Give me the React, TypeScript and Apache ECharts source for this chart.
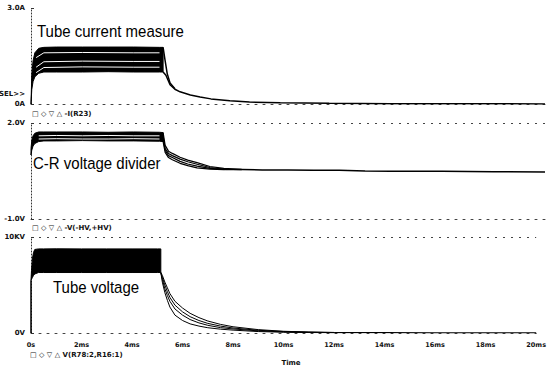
import React, { useEffect, useRef } from "react";
import * as echarts from "echarts";

// ---- x ticks (ms) ----
const xTicks = [0, 2, 4, 6, 8, 10, 12, 14, 16, 18, 20];

// ---- Top panel: tube current (A) ----
const curBandT = [0, 0.03, 0.08, 0.15, 0.3, 0.5, 1, 2, 3, 4, 5, 5.14];
const curUpper = [0, 0.9, 1.35, 1.6, 1.74, 1.77, 1.78, 1.78, 1.78, 1.78, 1.77, 1.77];
const curLower = [0, 0.45, 0.7, 0.85, 0.96, 1.0, 1.0, 1.0, 1.01, 1.0, 1.0, 1.0];
const curWhiteT = [0.2, 0.5, 2, 4, 5.0];
const curWhite1 = [1.45, 1.6, 1.61, 1.6, 1.6];
const curWhite2 = [1.15, 1.32, 1.34, 1.33, 1.33];
const curWhite3 = [0.98, 1.14, 1.16, 1.15, 1.15];
const curDropT = [5.14, 5.22, 5.3, 5.41, 5.6];
const curDrop = [1.77, 1.35, 0.95, 0.66, 0.48];
const curDecayT = [5.14, 5.25, 5.41, 5.6, 5.8, 6.2, 6.58, 7.0, 7.74, 8.5, 9.7, 11.6, 14, 17, 20];
const curDecay = [1.0, 0.9, 0.6, 0.46, 0.38, 0.28, 0.22, 0.16, 0.1, 0.06, 0.04, 0.02, 0.01, 0.01, 0.0];

// ---- Middle panel: C-R voltage divider (V) ----
const divBandT = [0, 0.03, 0.08, 0.15, 0.3, 0.5, 1, 2, 3, 4, 5, 5.14];
const divUpper = [1.2, 1.45, 1.6, 1.68, 1.72, 1.72, 1.72, 1.72, 1.71, 1.72, 1.71, 1.7];
const divLower = [1.0, 1.15, 1.28, 1.36, 1.42, 1.44, 1.44, 1.45, 1.44, 1.44, 1.43, 1.42];
const divWhiteT = [0.3, 1, 2, 3, 4, 5.0];
const divWhite1 = [1.6, 1.61, 1.6, 1.61, 1.6, 1.6];
const divWhite2 = [1.5, 1.51, 1.5, 1.5, 1.51, 1.5];
const divDecayT = [5.14, 5.22, 5.35, 5.5, 5.8, 6.1, 6.46, 6.96, 7.5, 8.2];
const divDecay1 = [1.7, 1.3, 1.12, 1.05, 0.93, 0.84, 0.76, 0.64, 0.58, 0.55];
const divDecay2 = [1.6, 1.2, 1.05, 0.98, 0.87, 0.79, 0.71, 0.61, 0.56, 0.54];
const divDecay3 = [1.5, 1.15, 0.98, 0.92, 0.8, 0.72, 0.65, 0.58, 0.55, 0.54];
const divDecay4 = [1.42, 1.08, 0.92, 0.85, 0.74, 0.67, 0.6, 0.56, 0.54, 0.55];
const divTailT = [8.2, 9, 10, 11, 12, 13, 14, 16, 18, 20];
const divTail = [0.55, 0.53, 0.53, 0.52, 0.52, 0.5, 0.49, 0.49, 0.48, 0.47];

// ---- Bottom panel: tube voltage (kV) ----
const kvRiseT = [0, 0];
const kvRise = [0, 5.5];
const kvBandT = [0, 0.02, 0.06, 0.1, 0.15, 0.3, 0.5, 1, 2, 3, 4, 5, 5.14];
const kvUpper = [5.5, 6.5, 7.8, 8.4, 8.7, 8.76, 8.76, 8.77, 8.76, 8.76, 8.76, 8.76, 8.76];
const kvLower = [5.5, 5.6, 5.8, 6.0, 6.15, 6.3, 6.3, 6.3, 6.3, 6.3, 6.3, 6.3, 6.3];
const kvDecayT = [5.14, 5.2, 5.3, 5.4, 5.5, 5.7, 6.0, 6.3, 6.65, 7.0, 7.5, 8.0, 9.0, 10.0, 11, 12];
const kvDecay1 = [6.3, 5.3, 4.2, 3.4, 2.7, 1.86, 1.3, 0.95, 0.72, 0.55, 0.4, 0.3, 0.15, 0.08, 0.05, 0.03];
const kvDecay2 = [6.3, 5.6, 4.6, 3.9, 3.3, 2.5, 1.86, 1.4, 1.05, 0.8, 0.56, 0.42, 0.22, 0.12, 0.07, 0.04];
const kvDecay3 = [6.3, 5.8, 5.0, 4.3, 3.7, 2.9, 2.2, 1.7, 1.3, 1.0, 0.72, 0.52, 0.28, 0.15, 0.08, 0.05];
const kvDecay4 = [6.3, 6.0, 5.3, 4.7, 4.1, 3.3, 2.6, 2.05, 1.6, 1.25, 0.9, 0.65, 0.35, 0.18, 0.1, 0.06];
const kvTailT = [12, 14, 16, 18, 20];
const kvTail = [0.04, 0.03, 0.02, 0.02, 0.02];

// ---- texts ----
const titles = ["Tube current measure", "C-R voltage divider", "Tube voltage"];
const legends = ["□ ◇ ▽ △ -I(R23)", "□ ◇ ▽ △ -V(-HV,+HV)", "□ ◇ ▽ △ V(R78:2,R16:1)"];

const pts = (t: number[], v: number[]) => t.map((x, i) => [x, v[i]]);

function line(idx: number, data: number[][], extra: any = {}) {
  return {
    type: "line",
    xAxisIndex: idx,
    yAxisIndex: idx,
    data,
    showSymbol: false,
    symbol: "none",
    silent: true,
    lineStyle: { color: "#000", width: 1.2 },
    z: 2,
    ...extra,
  };
}

function white(idx: number, data: number[][]) {
  return line(idx, data, { lineStyle: { color: "#fff", width: 1 }, z: 4 });
}

// filled band between an upper and a lower trace, positioned by the axes
function band(idx: number, t: number[], upper: number[], lower: number[]) {
  const poly = [...pts(t, upper), ...pts(t, lower).reverse()];
  return {
    type: "custom",
    xAxisIndex: idx,
    yAxisIndex: idx,
    silent: true,
    z: 2,
    data: [[t[0], lower[0]]],
    renderItem: (_p: any, api: any) => ({
      type: "polygon",
      shape: { points: poly.map((p) => api.coord(p)) },
      style: { fill: "#000", stroke: "#000", lineWidth: 1 },
    }),
  };
}

const labelFont = { fontSize: 7, fontWeight: "bold", color: "#111", fontFamily: "DejaVu Sans" };
const dash = { color: "#444", type: [2, 6], width: 1 };

export default function App() {
  const ref = useRef<HTMLDivElement>(null);
  useEffect(() => {
    if (!ref.current) return;
    const chart = echarts.init(ref.current, undefined, { renderer: "svg" });
    const grids = [
      { left: 31, right: 4, top: 8, height: 96 },
      { left: 31, right: 4, top: 123, height: 96 },
      { left: 31, right: 4, top: 237, height: 96 },
    ];
    const yCfg = [
      { min: 0, max: 3, interval: 3, fmt: (v: number) => (v === 0 ? "0A" : "3.0A"), split: false },
      { min: -1, max: 2, interval: 3, fmt: (v: number) => (v === -1 ? "-1.0V" : "2.0V"), split: true },
      { min: 0, max: 10, interval: 10, fmt: (v: number) => (v === 0 ? "0V" : "10KV"), split: true },
    ];
    const option: any = {
      animation: false,
      backgroundColor: "#fff",
      grid: grids,
      xAxis: [0, 1, 2].map((i) => ({
        type: "value",
        gridIndex: i,
        min: 0,
        max: 20,
        interval: 2,
        axisLine: { show: true, onZero: false, lineStyle: dash },
        axisTick: { show: false },
        splitLine: { show: false },
        axisLabel: {
          show: i === 2,
          ...labelFont,
          fontSize: 6.5,
          margin: 8,
          formatter: (v: number) => (xTicks.includes(v) ? (v === 0 ? "0s" : v + "ms") : ""),
        },
      })),
      yAxis: yCfg.map((c, i) => ({
        type: "value",
        gridIndex: i,
        min: c.min,
        max: c.max,
        interval: c.interval,
        axisLine: { show: true, onZero: false, lineStyle: { color: "#333", type: [1, 2], width: 1 } },
        axisTick: { show: true, inside: true, length: 3, lineStyle: { color: "#333" } },
        splitLine: { show: c.split, lineStyle: dash },
        axisLabel: { ...labelFont, margin: 6, formatter: c.fmt },
      })),
      series: [
        // top
        band(0, curBandT, curUpper, curLower),
        white(0, pts(curWhiteT, curWhite1)),
        white(0, pts(curWhiteT, curWhite2)),
        white(0, pts(curWhiteT, curWhite3)),
        line(0, pts(curDropT, curDrop), { lineStyle: { color: "#000", width: 1.5 } }),
        line(0, pts(curDecayT, curDecay), { lineStyle: { color: "#000", width: 1.5 } }),
        // middle
        band(1, divBandT, divUpper, divLower),
        white(1, pts(divWhiteT, divWhite1)),
        white(1, pts(divWhiteT, divWhite2)),
        line(1, pts(divDecayT, divDecay1)),
        line(1, pts(divDecayT, divDecay2)),
        line(1, pts(divDecayT, divDecay3)),
        line(1, pts(divDecayT, divDecay4)),
        line(1, pts(divTailT, divTail), { lineStyle: { color: "#000", width: 1.5 } }),
        // bottom
        line(2, pts(kvRiseT, kvRise), { lineStyle: { color: "#000", width: 1.5 } }),
        band(2, kvBandT, kvUpper, kvLower),
        line(2, pts(kvDecayT, kvDecay1), { lineStyle: { color: "#000", width: 1 } }),
        line(2, pts(kvDecayT, kvDecay2), { lineStyle: { color: "#000", width: 1 } }),
        line(2, pts(kvDecayT, kvDecay3), { lineStyle: { color: "#000", width: 1 } }),
        line(2, pts(kvDecayT, kvDecay4), { lineStyle: { color: "#000", width: 1 } }),
        line(2, pts(kvTailT, kvTail), { lineStyle: { color: "#000", width: 1.2 } }),
      ],
      graphic: [
        ...[
          [37, 31],
          [33, 163],
          [53, 287],
        ].map(([x, y], i) => ({
          type: "text",
          x,
          y,
          scaleY: 1.15,
          z: 10,
          style: {
            text: titles[i],
            font: "15px 'Liberation Sans', Arial, sans-serif",
            fill: "#000",
            align: "left",
            verticalAlign: "middle",
            textAlign: "left",
            textVerticalAlign: "middle",
          },
        })),
        ...[
          [32, 114],
          [32, 228],
          [30, 355],
        ].map(([x, y], i) => ({
          type: "text",
          x,
          y,
          z: 10,
          style: {
            text: legends[i],
            font: "bold 7px 'DejaVu Sans', sans-serif",
            fill: "#111",
            align: "left",
            verticalAlign: "middle",
            textAlign: "left",
            textVerticalAlign: "middle",
          },
        })),
        {
          type: "text",
          x: 25,
          y: 94,
          z: 10,
          style: {
            text: "SEL>>",
            font: "bold 7px 'DejaVu Sans', sans-serif",
            fill: "#111",
            align: "right",
            verticalAlign: "middle",
            textAlign: "right",
            textVerticalAlign: "middle",
          },
        },
        {
          type: "text",
          x: 291,
          y: 363,
          z: 10,
          style: {
            text: "Time",
            font: "bold 7px 'DejaVu Sans', sans-serif",
            fill: "#111",
            align: "center",
            verticalAlign: "middle",
            textAlign: "center",
            textVerticalAlign: "middle",
          },
        },
      ],
    };
    chart.setOption(option);
    return () => chart.dispose();
  }, []);
  return (
    <div
      ref={ref}
      style={{ position: "fixed", left: 0, top: 0, width: 549, height: 369, background: "#fff" }}
    />
  );
}
